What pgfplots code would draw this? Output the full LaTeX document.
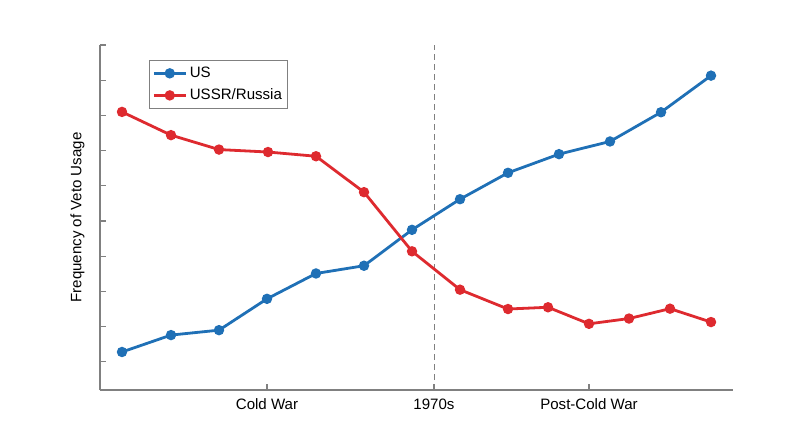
\documentclass[border=0pt]{standalone}
\usepackage{pgfplots}
\pgfplotsset{compat=1.18}
\usepackage{fontspec}
\setmainfont{Liberation Sans}
\definecolor{usblue}{HTML}{1F70B6}
\definecolor{rured}{HTML}{DE2A2F}
\definecolor{axgray}{HTML}{808080}
\begin{document}
\begin{tikzpicture}
\begin{axis}[
  at={(0,0)}, anchor=south west,
  scale only axis,
  width=474.75pt, height=258.75pt,
  xmin=100, xmax=733, ymin=0.2, ymax=10,
  axis x line=bottom, axis y line=left,
  axis line style={-, draw=axgray, line width=0.8pt},
  tick align=inside,
  major tick length=4.5pt,
  tick style={draw=axgray, line width=0.8pt},
  xtick={267,434,589},
  xticklabels={Cold War,1970s,Post-Cold War},
  ytick={1,2,3,4,5,6,7,8,9,10},
  yticklabels={},
  ticklabel style={font=\fontsize{11.3}{13.5}\selectfont},
  xticklabel style={yshift=-3pt},
  ylabel={Frequency of Veto Usage},
  ylabel style={at={(axis description cs:-0.0355,0.5)}, anchor=center, font=\fontsize{11.3}{13.5}\selectfont},
  legend style={at={(axis description cs:0.0779,0.9565)}, anchor=north west,
    draw=axgray, line width=0.6pt, font=\fontsize{11.3}{13.5}\selectfont,
    inner xsep=2pt, inner ysep=3pt, row sep=3pt, cells={anchor=west}},
  legend image code/.code={\draw[#1,mark repeat=2,mark phase=2] plot coordinates {(0pt,0pt) (12pt,0pt) (24pt,0pt)};},
  clip=false,
]
\addplot[axgray, line width=0.75pt, dash pattern=on 4.5pt off 3pt, forget plot] coordinates {(434,0.2) (434,10)};
\addplot[usblue, line width=2.1pt, mark=*, mark size=2.8pt, mark options={solid, fill=usblue, draw=usblue}] coordinates {
(122,1.28) (171,1.76) (219,1.90) (267,2.79) (316,3.51) (364,3.73) (412,4.75)
(460,5.62) (508,6.37) (559,6.90) (610,7.26) (661,8.09) (711,9.13)};
\addlegendentry{US}
\addplot[rured, line width=2.1pt, mark=*, mark size=2.8pt, mark options={solid, fill=rured, draw=rured}] coordinates {
(122,8.10) (171,7.44) (219,7.03) (268,6.96) (316,6.84) (364,5.82) (412,4.14)
(460,3.05) (508,2.50) (548,2.55) (589,2.08) (629,2.23) (670,2.51) (711,2.13)};
\addlegendentry{USSR/Russia}
\end{axis}
\pgfresetboundingbox
\useasboundingbox (-75pt,-42.75pt) rectangle (525pt,292.5pt);
\end{tikzpicture}
\end{document}
